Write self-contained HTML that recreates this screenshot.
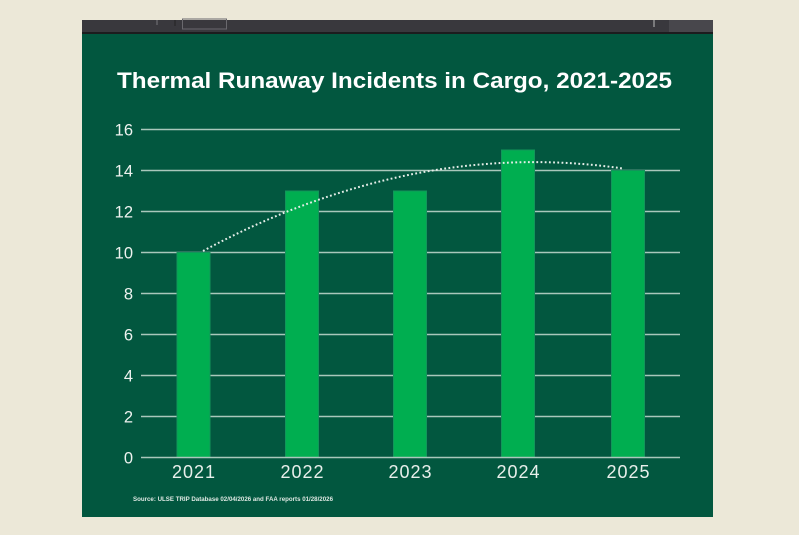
<!DOCTYPE html>
<html><head><meta charset="utf-8"><style>
html,body{margin:0;padding:0;background:#ece8d8;}
svg{display:block;}
text{font-family:"Liberation Sans",sans-serif;}
</style></head><body>
<svg width="799" height="535" viewBox="0 0 799 535" xmlns="http://www.w3.org/2000/svg">
<rect x="0" y="0" width="799" height="535" fill="#ece8d8"/>
<!-- top toolbar -->
<rect x="82" y="20" width="631" height="13" fill="#39383d"/>
<rect x="669" y="20" width="44" height="13" fill="#48474c"/>
<rect x="182.5" y="19" width="44" height="10" fill="none" stroke="#6a696e" stroke-width="1"/>
<rect x="82" y="32" width="631" height="2" fill="#1c1c1e"/>
<line x1="157" y1="20" x2="157" y2="25" stroke="#77767a"/>
<line x1="175" y1="20" x2="175" y2="26" stroke="#222"/>
<line x1="654" y1="20" x2="654" y2="27" stroke="#bbb"/>
<!-- green panel -->
<rect x="82" y="34" width="631" height="483" fill="#02573f"/>
<text x="117" y="88" font-size="22" font-weight="bold" fill="#ffffff" textLength="555" lengthAdjust="spacingAndGlyphs">Thermal Runaway Incidents in Cargo, 2021-2025</text>
<!-- gridlines -->
<g stroke="#a9c7bb" stroke-width="1.5">
<line x1="141" y1="129.5" x2="680" y2="129.5"/>
<line x1="141" y1="170.5" x2="680" y2="170.5"/>
<line x1="141" y1="211.5" x2="680" y2="211.5"/>
<line x1="141" y1="252.5" x2="680" y2="252.5"/>
<line x1="141" y1="293.5" x2="680" y2="293.5"/>
<line x1="141" y1="334.5" x2="680" y2="334.5"/>
<line x1="141" y1="375.5" x2="680" y2="375.5"/>
<line x1="141" y1="416.5" x2="680" y2="416.5"/>
</g>
<!-- bars -->
<g fill="#00ae50" stroke="#12965a" stroke-width="1">
<rect x="177" y="252.5" width="33" height="205"/>
<rect x="285.5" y="191" width="33" height="266.5"/>
<rect x="393.5" y="191" width="33" height="266.5"/>
<rect x="501.5" y="150" width="33" height="307.5"/>
<rect x="611.5" y="170.5" width="33" height="287"/>
</g>
<line x1="141" y1="457.5" x2="680" y2="457.5" stroke="#a9c7bb" stroke-width="1.5"/>
<!-- trend -->
<path d="M203,251 Q413,138.3 623,168.5" fill="none" stroke="#e6eee9" stroke-width="2" stroke-dasharray="1.8 2.4"/>
<!-- y labels -->
<g font-size="16.5" fill="#eef2ef" text-anchor="end">
<text x="133" y="135.5">16</text>
<text x="133" y="176.5">14</text>
<text x="133" y="217.5">12</text>
<text x="133" y="258.5">10</text>
<text x="133" y="299.5">8</text>
<text x="133" y="340.5">6</text>
<text x="133" y="381.5">4</text>
<text x="133" y="422.5">2</text>
<text x="133" y="463.5">0</text>
</g>
<!-- x labels -->
<g font-size="18" fill="#e8efeb" text-anchor="middle" letter-spacing="1">
<text x="194" y="478">2021</text>
<text x="302.5" y="478">2022</text>
<text x="410.5" y="478">2023</text>
<text x="518.5" y="478">2024</text>
<text x="628.5" y="478">2025</text>
</g>
<text x="133" y="501" font-size="6.5" font-weight="bold" fill="#dfe8e3" textLength="200" lengthAdjust="spacingAndGlyphs">Source: ULSE TRIP Database 02/04/2026 and FAA reports 01/28/2026</text>
</svg>
</body></html>
